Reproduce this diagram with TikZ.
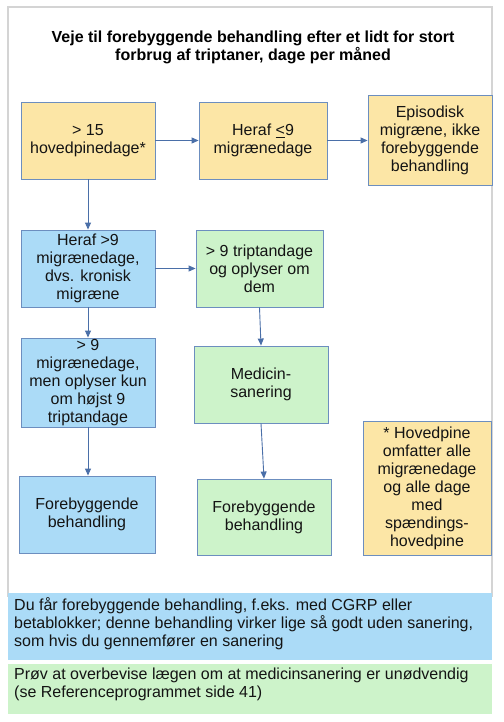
\documentclass[tikz,border=0pt]{standalone}
\usepackage{fontspec}
\setmainfont{Liberation Sans}
\usetikzlibrary{arrows.meta}
\definecolor{yel}{HTML}{FCE6A6}
\definecolor{blu}{HTML}{ABDBF7}
\definecolor{grn}{HTML}{CDF3CA}
\definecolor{bord}{HTML}{6C8EBF}
\definecolor{arr}{HTML}{4A6FA8}
\definecolor{frm}{HTML}{D4D4D4}
\definecolor{txt}{HTML}{141414}
\tikzset{
  box/.style={draw=bord, line width=0.9pt, rectangle, align=center, inner sep=0pt,
    font=\fontsize{16}{18}\selectfont, text=txt},
  ybox/.style={box, fill=yel},
  bbox/.style={box, fill=blu},
  gbox/.style={box, fill=grn},
  conn/.style={draw=arr, line width=0.9pt, -{Triangle[length=7pt,width=6pt]}},
  band/.style={font=\fontsize{16}{18}\selectfont, text=txt, align=left, anchor=north west, inner sep=0pt}
}
\begin{document}
\begin{tikzpicture}[x=1pt,y=-1pt]
\useasboundingbox (0,0) rectangle (503,722);
\fill[white] (0,0) rectangle (503,722);
\draw[frm, line width=1.2pt] (8,7) rectangle (492,596);
\node[font=\bfseries\fontsize{16}{18}\selectfont, align=center, text=black] (title) at (253,47)
  {Veje til forebyggende behandling efter et lidt for stort\\forbrug af triptaner, dage per måned};

\node[ybox, minimum width=134pt, minimum height=77pt] (n1) at (88,140.5) {> 15\\hovedpinedage*};
\node[ybox, minimum width=128pt, minimum height=77pt] (n2) at (263,140.5) {Heraf \underline{<}9\\migrænedage};
\node[ybox, minimum width=124pt, minimum height=90pt] (n3) at (430,140.5) {Episodisk\\migræne, ikke\\forebyggende\\behandling};
\node[bbox, minimum width=134pt, minimum height=77pt] (n4) at (88,268.5) {Heraf >9\\migrænedage,\\dvs. kronisk\\migræne};
\node[gbox, minimum width=127pt, minimum height=77pt] (n5) at (259.5,268.5) {> 9 triptandage\\og oplyser om\\dem};
\node[bbox, minimum width=134pt, minimum height=89pt] (n6) at (88,382.5) {> 9\\migrænedage,\\men oplyser kun\\om højst 9\\triptandage};
\node[gbox, minimum width=134pt, minimum height=77pt] (n7) at (261,384.5) {Medicin-\\sanering};
\node[bbox, minimum width=136pt, minimum height=77pt] (n8) at (87,514.5) {Forebyggende\\behandling};
\node[gbox, minimum width=134pt, minimum height=76pt] (n9) at (264,517) {Forebyggende\\behandling};
\node[ybox, minimum width=128pt, minimum height=134pt] (n10) at (427,488) {* Hovedpine\\omfatter alle\\migrænedage\\og alle dage\\med\\spændings-\\hovedpine};

\draw[conn] (n1.east) -- (n2.west);
\draw[conn] (n2.east) -- (n3.west);
\draw[conn] (n1.south) -- (n4.north);
\draw[conn] (n4.east) -- (n5.west);
\draw[conn] (n4.south) -- (n6.north);
\draw[conn] (n5.south) -- (n7.north);
\draw[conn] (n6.south) -- (n6.south |- n8.north);
\draw[conn] (n7.south) -- (n9.north);

\fill[blu] (8,593) rectangle (492,660);
\node[band] (b1) at (14,597) {Du får forebyggende behandling, f.eks. med CGRP eller\\betablokker; denne behandling virker lige så godt uden sanering,\\som hvis du gennemfører en sanering};
\fill[grn] (8,664) rectangle (492,714);
\node[band] (b2) at (14,668) {Prøv at overbevise lægen om at medicinsanering er unødvendig\\(se Referenceprogrammet side 41)};
\end{tikzpicture}
\end{document}
